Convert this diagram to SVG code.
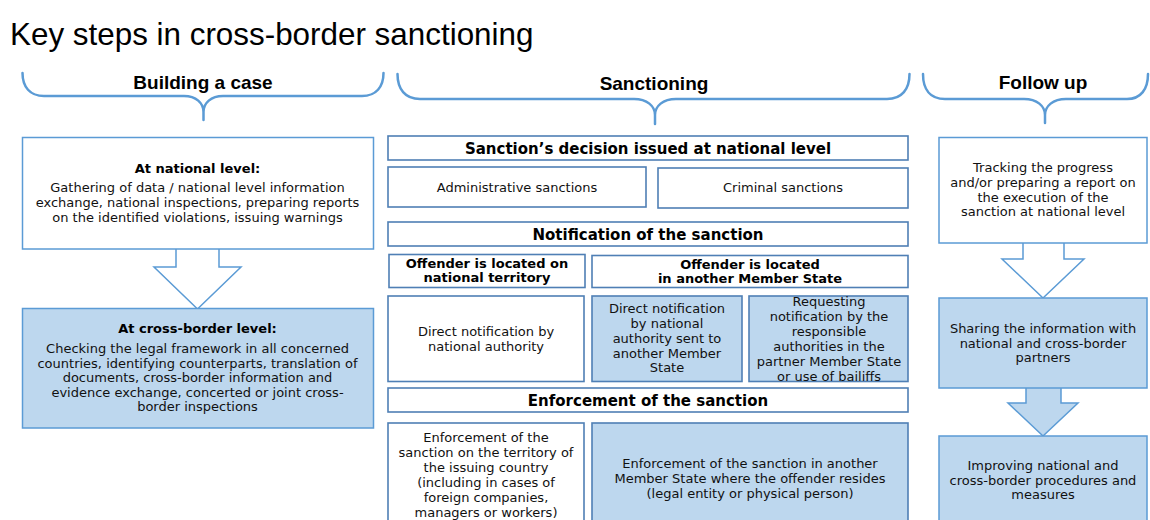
<svg xmlns="http://www.w3.org/2000/svg" width="1150" height="520" viewBox="0 0 1150 520">
<style>
.title{font-family:"Liberation Sans",Arial,sans-serif;font-size:31.4px;fill:#000}
.hdr{font-family:"Liberation Sans",Arial,sans-serif;font-size:19px;font-weight:bold;fill:#000;text-anchor:middle}
.brace{fill:none;stroke:#5B9BD5;stroke-width:2.5;stroke-linecap:round}
.t{font-family:"DejaVu Sans",Verdana,sans-serif;font-size:13px;fill:#111;text-anchor:middle}
.b{font-family:"DejaVu Sans",Verdana,sans-serif;font-size:13px;font-weight:bold;fill:#000;text-anchor:middle}
.bh{font-family:"DejaVu Sans",Verdana,sans-serif;font-size:15px;font-weight:bold;fill:#000;text-anchor:middle}
.wl{fill:#fff;stroke:#5B9BD5;stroke-width:1.5}
.bl{fill:#BDD7EE;stroke:#5B9BD5;stroke-width:1.5}
.wm{fill:#fff;stroke:#4F7FB5;stroke-width:1.6}
.bm{fill:#BDD7EE;stroke:#4F7FB5;stroke-width:1.6}
</style>
<text class="title" x="10" y="45">Key steps in cross-border sanctioning</text>

<g id="hdr-building">
<path class="brace" d="M22.5,73 C22.5,87 30,96 44,96 L184,96 C196,96 203.5,103 203.5,112 L203.5,120 M203.5,112 C203.5,103 211,96 223,96 L362,96 C376,96 383.5,87 383.5,73"/>
<text class="hdr" x="203" y="89">Building a case</text>
</g>
<g id="hdr-sanctioning">
<path class="brace" d="M397.5,74 C397.5,89 405,99 420,99 L634,99 C647,99 655,106 655,115 L655,124 M655,115 C655,106 663,99 676,99 L887,99 C902,99 909.5,89 909.5,74"/>
<text class="hdr" x="654" y="90">Sanctioning</text>
</g>
<g id="hdr-followup">
<path class="brace" d="M923,74 C923,89 930,99 945,99 L1024,99 C1037,99 1045,106 1045,115 L1045,123 M1045,115 C1045,106 1053,99 1066,99 L1127,99 C1141,99 1148,89 1148,74"/>
<text class="hdr" x="1043" y="89">Follow up</text>
</g>

<g id="connectors">
<path class="wl" d="M176,249 L176,267 L154,267 L197.5,309 L241,267 L219,267 L219,249"/>
<path class="wl" d="M1023,243 L1023,259 L1002,259 L1043,298 L1084,259 L1064,259 L1064,243"/>
<path class="bl" d="M1026,388 L1026,403 L1008,403 L1043,436 L1078,403 L1061,403 L1061,388"/>
</g>

<g id="n-national">
<rect class="wl" x="22.5" y="137.5" width="351" height="111.5"/>
<text class="b" x="197.5" y="173">At national level:</text>
<text class="t" x="197.5" y="192">Gathering of data / national level information</text>
<text class="t" x="197.5" y="206.5">exchange, national inspections, preparing reports</text>
<text class="t" x="197.5" y="221.5">on the identified violations, issuing warnings</text>
</g>
<g id="n-crossborder">
<rect class="bl" x="22.5" y="308.5" width="351" height="119.5"/>
<text class="b" x="197.5" y="333">At cross-border level:</text>
<text class="t" x="197.5" y="353">Checking the legal framework in all concerned</text>
<text class="t" x="197.5" y="367.5">countries, identifying counterparts, translation of</text>
<text class="t" x="197.5" y="382">documents, cross-border information and</text>
<text class="t" x="197.5" y="396.5">evidence exchange, concerted or joint cross-</text>
<text class="t" x="197.5" y="411">border inspections</text>
</g>

<g id="n-decision">
<rect class="wm" x="388" y="136" width="520" height="24"/>
<text class="bh" x="648" y="154">Sanction’s decision issued at national level</text>
</g>
<g id="n-admin">
<rect class="wm" x="388" y="167" width="258" height="40"/>
<text class="t" x="517" y="192">Administrative sanctions</text>
</g>
<g id="n-criminal">
<rect class="wm" x="658" y="168" width="250" height="40"/>
<text class="t" x="783" y="192">Criminal sanctions</text>
</g>
<g id="n-notification">
<rect class="wm" x="388" y="222" width="520" height="24"/>
<text class="bh" x="648" y="240">Notification of the sanction</text>
</g>
<g id="n-off-national">
<rect class="wm" x="389" y="254.5" width="196" height="33"/>
<text class="b" x="487" y="268">Offender is located on</text>
<text class="b" x="487" y="282">national territory</text>
</g>
<g id="n-off-other">
<rect class="wm" x="592" y="255.5" width="316" height="32"/>
<text class="b" x="750" y="269">Offender is located</text>
<text class="b" x="750" y="283">in another Member State</text>
</g>
<g id="n-direct-nat">
<rect class="wm" x="388" y="296" width="196" height="85.5"/>
<text class="t" x="486" y="336">Direct notification by</text>
<text class="t" x="486" y="350.5">national authority</text>
</g>
<g id="n-direct-other">
<rect class="bm" x="592" y="296" width="150" height="85.5"/>
<text class="t" x="667" y="313">Direct notification</text>
<text class="t" x="667" y="328">by national</text>
<text class="t" x="667" y="343">authority sent to</text>
<text class="t" x="667" y="357.5">another Member</text>
<text class="t" x="667" y="372">State</text>
</g>
<g id="n-requesting">
<rect class="bm" x="749" y="296" width="159" height="85.5"/>
<text class="t" x="829" y="305.5">Requesting</text>
<text class="t" x="829" y="320.5">notification by the</text>
<text class="t" x="829" y="335.5">responsible</text>
<text class="t" x="829" y="350.5">authorities in the</text>
<text class="t" x="829" y="365.5">partner Member State</text>
<text class="t" x="829" y="380.5">or use of bailiffs</text>
</g>
<g id="n-enforcement">
<rect class="wm" x="388" y="388" width="520" height="24"/>
<text class="bh" x="648" y="406">Enforcement of the sanction</text>
</g>
<g id="n-enf-nat">
<rect class="wm" x="388" y="423" width="196" height="110"/>
<text class="t" x="486" y="442">Enforcement of the</text>
<text class="t" x="486" y="457">sanction on the territory of</text>
<text class="t" x="486" y="472">the issuing country</text>
<text class="t" x="486" y="487">(including in cases of</text>
<text class="t" x="486" y="502">foreign companies,</text>
<text class="t" x="486" y="517">managers or workers)</text>
</g>
<g id="n-enf-other">
<rect class="bm" x="592" y="423" width="316" height="110"/>
<text class="t" x="750" y="468">Enforcement of the sanction in another</text>
<text class="t" x="750" y="483">Member State where the offender resides</text>
<text class="t" x="750" y="498">(legal entity or physical person)</text>
</g>

<g id="n-tracking">
<rect class="wl" x="939" y="137.5" width="208" height="105.5"/>
<text class="t" x="1043" y="172">Tracking the progress</text>
<text class="t" x="1043" y="187">and/or preparing a report on</text>
<text class="t" x="1043" y="201.5">the execution of the</text>
<text class="t" x="1043" y="216">sanction at national level</text>
</g>
<g id="n-sharing">
<rect class="bl" x="939" y="298" width="208" height="90"/>
<text class="t" x="1043" y="333">Sharing the information with</text>
<text class="t" x="1043" y="348">national and cross-border</text>
<text class="t" x="1043" y="362">partners</text>
</g>
<g id="n-improving">
<rect class="bl" x="939" y="436" width="208" height="95"/>
<text class="t" x="1043" y="470">Improving national and</text>
<text class="t" x="1043" y="485">cross-border procedures and</text>
<text class="t" x="1043" y="499">measures</text>
</g>
</svg>
